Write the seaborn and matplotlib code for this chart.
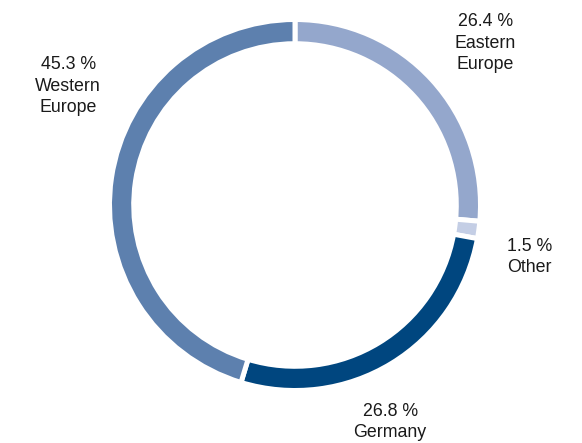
import matplotlib
matplotlib.use("Agg")
import matplotlib.pyplot as plt
import seaborn as sns

regions = ["Eastern\nEurope", "Other", "Germany", "Western\nEurope"]
shares = [26.4, 1.5, 26.8, 45.3]
colors = ["#94a7cc", "#c4cee5", "#00467f", "#5d80ae"]
# label centres, in units of the ring radius
label_pos = [(1.04, 0.885), (1.28, -0.285), (0.52, -1.185), (-1.24, 0.65)]

sns.set_theme(style="white")
plt.rcParams["font.family"] = ["Liberation Sans", "DejaVu Sans"]

fig = plt.figure(figsize=(5.82, 4.43), dpi=100)
ax = fig.add_axes([0, 0, 1, 1])

gap = 3.6  # points
edge = gap / 72 * 100 / 2 / 183
ax.pie(
    shares,
    colors=colors,
    startangle=90,
    counterclock=False,
    radius=1 + edge,
    wedgeprops=dict(width=0.105 + 2 * edge, edgecolor="white", linewidth=gap),
)

for name, val, (x, y) in zip(regions, shares, label_pos):
    ax.text(x, y, f"{val:.1f} %\n{name}", ha="center", va="center",
            fontsize=12.8, color="#1a1a1a", linespacing=1.32)

ax.set_xlim(-295 / 183, (582 - 295) / 183)
ax.set_ylim(-(443 - 205) / 183, 205 / 183)
ax.set_aspect("equal")
ax.axis("off")

plt.savefig("out.png", dpi=100)
